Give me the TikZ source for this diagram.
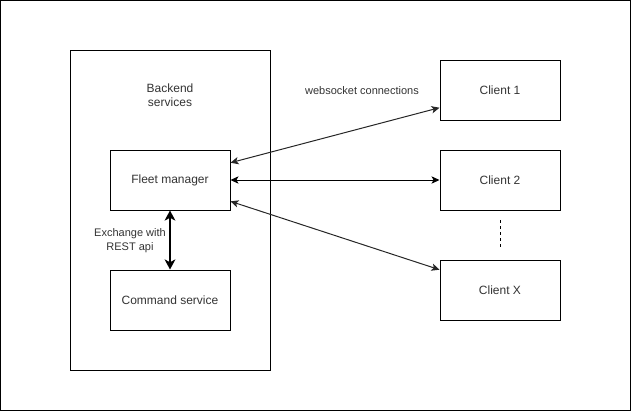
\documentclass[tikz,border=0pt]{standalone}
\usepackage{fontspec}
\setmainfont{Liberation Sans}
\usetikzlibrary{arrows.meta,calc}
\begin{document}
\begin{tikzpicture}[x=0.75pt,y=-0.75pt,
  box/.style={draw=black,line width=0.75pt,minimum width=90pt,minimum height=45pt,inner sep=0pt,font=\fontsize{9pt}{11pt}\selectfont,text=black!80},
  wsarrow/.style={line width=0.75pt,draw=black!85,{Stealth[length=6pt,width=5.5pt,inset=1.5pt]}-{Stealth[length=6pt,width=5.5pt,inset=1.5pt]}},
  restarrow/.style={line width=1.5pt,{Stealth[length=7.5pt,width=8pt,inset=2pt]}-{Stealth[length=7.5pt,width=8pt,inset=2pt]}},
  lbl/.style={font=\fontsize{8.25pt}{10.5pt}\selectfont,text=black!80,align=center,inner sep=0pt}]
\useasboundingbox (0,0) rectangle (631,411);
\draw[line width=0.75pt] (0.5,0.5) rectangle (630.5,410.5);
% backend container
\node[draw=black,line width=0.75pt,minimum width=150pt,minimum height=240pt,inner sep=0pt] (be) at (170,210) {};
\node[font=\fontsize{9pt}{10.5pt}\selectfont,text=black!80,align=center,inner sep=0pt] (betitle) at (170,95) {Backend\\services};
\node[box] (fm) at (170,180) {Fleet manager};
\node[box] (cs) at (170,300) {Command service};
\node[box] (c1) at (500,90) {Client 1};
\node[box] (c2) at (500,180) {Client 2};
\node[box] (cx) at (500,290) {Client X};
% dashed ellipsis
\coordinate (d1) at (500,220);
\coordinate (d2) at (500,248);
\draw[line width=0.75pt,dash pattern=on 2.25pt off 2.25pt] (d1) -- (d2);
% websocket connections
\coordinate (fm1) at ($(fm.north east)!0.217!(fm.south east)$);
\coordinate (fm3) at ($(fm.north east)!0.85!(fm.south east)$);
\coordinate (c1a) at ($(c1.north west)!0.79!(c1.south west)$);
\coordinate (cxa) at ($(cx.north west)!0.167!(cx.south west)$);
\draw[wsarrow] (fm1) -- (c1a);
\draw[wsarrow,draw=black] (fm.east) -- (c2.west);
\draw[wsarrow] (fm3) -- (cxa);
\node[lbl] (ws) at (362,91) {websocket connections};
% REST exchange
\draw[restarrow] (fm.south) -- (cs.north);
\node[lbl] (rest) at (130,241) {Exchange with\\REST api};
\end{tikzpicture}
\end{document}
